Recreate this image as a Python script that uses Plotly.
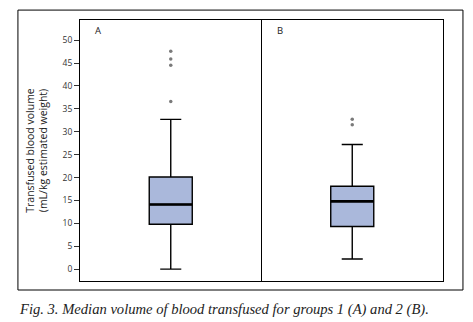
import plotly.graph_objects as go

groups = ["A", "B"]
q1 = [9.8, 9.3]
median = [14.1, 14.8]
q3 = [20.1, 18.1]
lower_whisker = [0.0, 2.2]
upper_whisker = [32.7, 27.2]
outliers = [[47.6, 45.9, 44.5, 36.6], [32.7, 31.5]]
y_ticks = [0, 5, 10, 15, 20, 25, 30, 35, 40, 45, 50]

positions = list(range(len(groups)))
box_w = 0.237
fill = "#aab8db"

fig = go.Figure()
for i, g in enumerate(groups):
    fig.add_trace(go.Box(
        x=[positions[i]], q1=[q1[i]], median=[median[i]], q3=[q3[i]],
        lowerfence=[lower_whisker[i]], upperfence=[upper_whisker[i]],
        width=box_w, whiskerwidth=0.49, fillcolor=fill,
        line=dict(color="black", width=1.4), boxpoints=False,
        showlegend=False, hoverinfo="skip"))
    fig.add_trace(go.Scatter(
        x=[positions[i] - box_w / 2, positions[i] + box_w / 2],
        y=[median[i], median[i]], mode="lines",
        line=dict(color="black", width=2.6), showlegend=False, hoverinfo="skip"))
    fig.add_trace(go.Scatter(
        x=[positions[i]] * len(outliers[i]), y=outliers[i], mode="markers",
        marker=dict(symbol="circle", size=3.5, color="#7a7a7a"),
        showlegend=False, hoverinfo="skip"))

fig.update_layout(
    width=473, height=322,
    margin=dict(l=80, r=30, t=20, b=41),
    paper_bgcolor="white", plot_bgcolor="white",
    font=dict(family="Open Sans, Noto Sans, sans-serif", color="#222"),
    xaxis=dict(range=[-0.5, 1.5], showticklabels=False, ticks="",
               showgrid=False, zeroline=False, showline=True, mirror=True,
               linecolor="black", linewidth=1, automargin=False),
    yaxis=dict(range=[-2.6, 54.4], tickvals=y_ticks, ticks="outside", ticklen=5,
               tickcolor="#333", tickfont=dict(size=8.5, color="#333"),
               showgrid=False, zeroline=False, showline=True, mirror=True,
               linecolor="black", linewidth=1, automargin=False,
               title=dict(text="Transfused blood volume<br>(mL/kg estimated weight)",
                          font=dict(size=10.5, color="#222"), standoff=12)),
)

# divider between panels
fig.add_shape(type="line", xref="x", yref="paper", x0=0.5, x1=0.5, y0=0, y1=1,
              line=dict(color="black", width=1))
# outer frame
fig.add_shape(type="rect", xref="paper", yref="paper", x0=-0.171, x1=1.055,
              y0=-0.0345, y1=1.038, line=dict(color="black", width=1))

for i, g in enumerate(groups):
    fig.add_annotation(x=positions[i] - 0.5, y=1, xref="x", yref="paper",
                       text=g, showarrow=False, xanchor="left", yanchor="top",
                       xshift=13, yshift=-2, font=dict(size=9.5, color="#222"))

fig.add_annotation(x=-0.173, y=-0.07, xref="paper", yref="paper", showarrow=False,
                   xanchor="left", yanchor="top",
                   text="<i>Fig. 3. Median volume of blood transfused for groups 1 (A) and 2 (B).</i>",
                   font=dict(family="Liberation Serif, serif", size=14.6, color="#222"))

fig.write_html("out.html", config={"displayModeBar": False},
               post_script="document.body.style.margin='0';document.body.style.overflow='hidden';")
